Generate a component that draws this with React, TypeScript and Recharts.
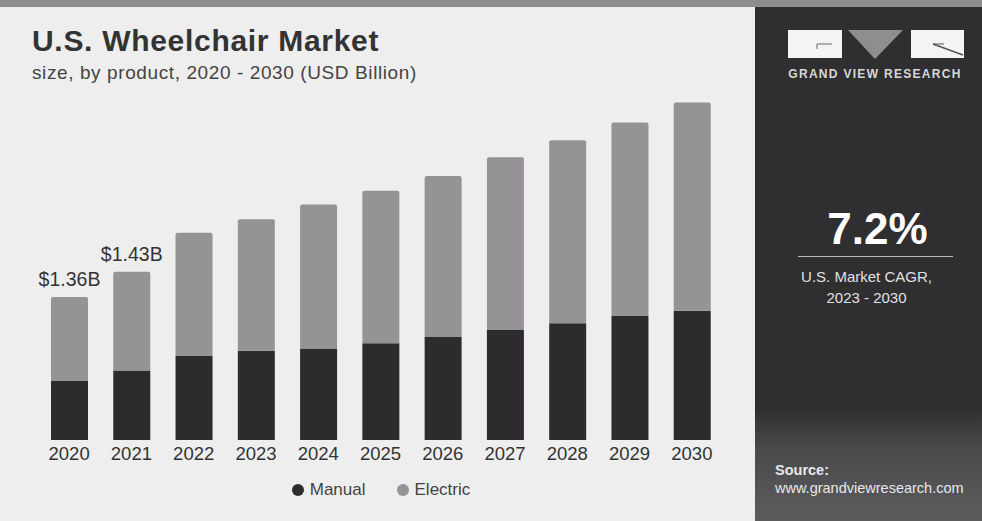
import React from 'react';
import { BarChart, Bar, XAxis, YAxis, Legend, LabelList } from 'recharts';

// values (USD billion)
const years = ['2020', '2021', '2022', '2023', '2024', '2025', '2026', '2027', '2028', '2029', '2030'];
const manual = [0.56, 0.66, 0.8, 0.85, 0.87, 0.92, 0.98, 1.05, 1.11, 1.18, 1.23];
const electric = [0.8, 0.94, 1.17, 1.25, 1.37, 1.45, 1.53, 1.64, 1.74, 1.84, 1.98];
const totalLabels = ['$1.36B', '$1.43B', '', '', '', '', '', '', '', '', ''];
const legendOrder = ['Manual', 'Electric'];

const data = years.map((year, i) => ({
  year,
  manual: manual[i],
  electric: electric[i],
  label: totalLabels[i],
}));

const FONT = '"Liberation Sans", Arial, Helvetica, sans-serif';
const DARK = '#2d2b2e';
const LIGHT = '#959396';

const renderLegend = (props: any) => {
  const items = [...(props.payload || [])].sort(
    (a: any, b: any) => legendOrder.indexOf(a.value) - legendOrder.indexOf(b.value)
  );
  return (
    <div style={{ display: 'flex', justifyContent: 'center', fontFamily: FONT, fontSize: 17, color: '#444' }}>
      {items.map((entry: any, i: number) => (
        <div
          key={entry.value}
          style={{ display: 'flex', alignItems: 'center', marginLeft: i === 0 ? 0 : 31 }}
        >
          <span
            style={{
              display: 'inline-block',
              width: 12,
              height: 12,
              borderRadius: 6,
              background: entry.color,
              marginRight: 6,
            }}
          />
          <span>{entry.value}</span>
        </div>
      ))}
    </div>
  );
};

const TopLabel = (props: any) => {
  const { x, y, width, value } = props;
  if (!value) return null;
  return (
    <text x={x + width / 2} y={y - 11} textAnchor="middle" fill="#333" fontSize={19.5} fontFamily={FONT}>
      {value}
    </text>
  );
};

const App: React.FC = () => {
  return (
    <div
      style={{
        position: 'absolute',
        left: 0,
        top: 0,
        width: 982,
        height: 521,
        background: '#eeeeee',
        overflow: 'hidden',
        fontFamily: FONT,
      }}
    >
      <div style={{ position: 'absolute', left: 0, top: 0, width: 982, height: 7, background: '#8e8e8e' }} />

      <div
        style={{
          position: 'absolute',
          left: 32,
          top: 24,
          fontSize: 30,
          fontWeight: 900,
          color: '#333',
          letterSpacing: 0.7,
        }}
      >
        U.S. Wheelchair Market
      </div>
      <div style={{ position: 'absolute', left: 32, top: 62, fontSize: 19, color: '#444', letterSpacing: 0.6 }}>
        size, by product, 2020 - 2030 (USD Billion)
      </div>

      <div style={{ position: 'absolute', left: 0, top: 0 }}>
        <BarChart width={755} height={521} data={data} margin={{ top: 72, right: 32, bottom: 51, left: 38 }}>
          <XAxis
            dataKey="year"
            axisLine={false}
            tickLine={false}
            height={30}
            tick={{ fill: '#333', fontSize: 18.5, fontFamily: FONT }}
            tickMargin={1}
          />
          <YAxis hide domain={[0, 3.5]} />
          <Legend
            verticalAlign="middle"
            align="center"
            content={renderLegend}
            wrapperStyle={{ top: 480, left: 0, width: 762 }}
          />
          <Bar dataKey="manual" name="Manual" stackId="a" fill={DARK} barSize={37} isAnimationActive={false} />
          <Bar
            dataKey="electric"
            name="Electric"
            stackId="a"
            fill={LIGHT}
            barSize={37}
            radius={[2, 2, 0, 0]}
            isAnimationActive={false}
          >
            <LabelList dataKey="label" content={TopLabel} />
          </Bar>
        </BarChart>
      </div>

      {/* right panel */}
      <div
        style={{
          position: 'absolute',
          left: 755,
          top: 7,
          width: 227,
          height: 514,
          background: 'linear-gradient(180deg, #2f2e30 0%, #2f2e30 78%, #4a494b 86%, #5c5b5d 100%)',
        }}
      >
        <svg width={227} height={100} style={{ position: 'absolute', left: 0, top: 0 }}>
          <rect x={33} y={23} width={54} height={28} fill="#f4f4f4" />
          <line x1={62} y1={37} x2={77} y2={37} stroke="#666" strokeWidth={1} />
          <line x1={62} y1={37} x2={62} y2={42} stroke="#666" strokeWidth={1} />
          <polygon points="93,23 148,23 120,52" fill="#8f8d90" />
          <rect x={156} y={23} width={53} height={28} fill="#f4f4f4" />
          <line x1={178} y1={37} x2={208} y2={48} stroke="#555" strokeWidth={1.5} />
          <line x1={178} y1={37} x2={189} y2={37} stroke="#555" strokeWidth={1} />
          <text
            x={120}
            y={71}
            textAnchor="middle"
            fill="#d8d8d8"
            fontSize={12}
            fontWeight="bold"
            fontFamily={FONT}
            letterSpacing={1.3}
          >
            GRAND VIEW RESEARCH
          </text>
        </svg>

        <div
          style={{
            position: 'absolute',
            left: 9,
            width: 227,
            top: 197,
            textAlign: 'center',
            color: '#ffffff',
            fontSize: 44,
            fontWeight: 'bold',
          }}
        >
          7.2%
        </div>
        <div style={{ position: 'absolute', left: 43, top: 249, width: 155, height: 1, background: '#bbbbbb' }} />
        <div
          style={{
            position: 'absolute',
            left: -2,
            width: 227,
            top: 259,
            textAlign: 'center',
            color: '#e0e0e0',
            fontSize: 15,
            lineHeight: '21px',
          }}
        >
          U.S. Market CAGR,
          <br />
          2023 - 2030
        </div>

        <div
          style={{
            position: 'absolute',
            left: 20,
            top: 454,
            color: '#e8e8e8',
            fontSize: 14.5,
            lineHeight: '18px',
          }}
        >
          <div style={{ fontWeight: 'bold' }}>Source:</div>
          <div>www.grandviewresearch.com</div>
        </div>
      </div>
    </div>
  );
};

export default App;
